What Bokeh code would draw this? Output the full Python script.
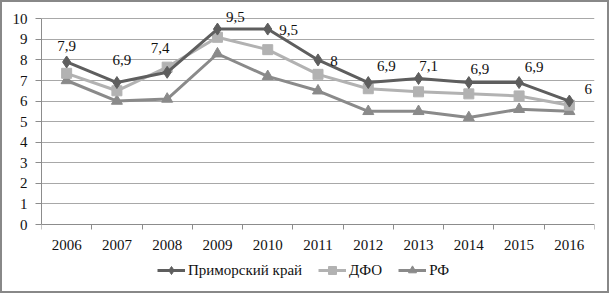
from bokeh.plotting import figure
from bokeh.models import (ColumnDataSource, Range1d, LinearAxis, FixedTicker, Legend,
                          LegendItem, Grid)
from bokeh.core.properties import value
from bokeh.embed import file_html
from bokeh.resources import INLINE

years = [2006, 2007, 2008, 2009, 2010, 2011, 2012, 2013, 2014, 2015, 2016]
year_labels = ["2006", "2007", "2008", "2009", "2010", "2011", "2012", "2013", "2014", "2015", "2016"]
primorsky = [7.9, 6.9, 7.4, 9.5, 9.5, 8.0, 6.9, 7.1, 6.9, 6.9, 6.0]
dfo = [7.35, 6.5, 7.65, 9.1, 8.5, 7.3, 6.6, 6.45, 6.35, 6.25, 5.8]
rf = [7.0, 6.0, 6.1, 8.3, 7.2, 6.5, 5.5, 5.5, 5.2, 5.6, 5.5]
primorsky_labels = ["7,9", "6,9", "7,4", "9,5", "9,5", "8", "6,9", "7,1", "6,9", "6,9", "6"]
series_names = ["Приморский край", "ДФО", "РФ"]

# label placement (screen pixels), layout only
lab_dx = [0, 5, -7, 18, 21, 16, 18, 10, 11, 15, 19]
lab_dy = [-16, -23, -24, -12, 1, 1, -17, -12, -14, -16, -12]

FONT = "serif"
C_P, C_D, C_R = "#5e5e5e", "#b2b2b2", "#8a8a8a"
GRID = "#a8a8a8"
AX = "#8c8c8c"
TXT = "#111111"

src = ColumnDataSource(dict(x=years, p=primorsky, d=dfo, r=rf, lab=primorsky_labels,
                            dx=lab_dx, dy=lab_dy, ylab=year_labels))

# frame spans from y=10.5 (top) down to the legend area; y=0 sits 63 px above the frame bottom
p = figure(width=609, height=293, output_backend="svg", toolbar_location=None,
           x_range=Range1d(years[0] - 0.5, years[-1] + 0.5), y_range=Range1d(-3.0625, 10.5),
           x_axis_type=None, y_axis_type=None,
           min_border_left=39, min_border_right=17, min_border_top=6, min_border_bottom=8)
p.outline_line_color = None
p.background_fill_color = "white"
p.border_fill_color = "white"
p.styles = {"border": "2px solid #888888", "box-sizing": "border-box"}

# y axis
yax = LinearAxis(ticker=FixedTicker(ticks=list(range(0, 11))), bounds=(0, 10))
yax.axis_line_color = AX
yax.major_tick_line_color = AX
yax.major_tick_out = 6
yax.major_tick_in = 0
yax.minor_tick_line_color = None
yax.major_label_standoff = 8
yax.major_label_text_font = FONT
yax.major_label_text_font_size = "15px"
yax.major_label_text_color = TXT
p.add_layout(yax, "left")

# x axis line at y=0 with ticks on category boundaries
tax = LinearAxis(ticker=FixedTicker(ticks=[y - 0.5 for y in years] + [years[-1] + 0.5]),
                 fixed_location=0)
tax.axis_line_color = AX
tax.major_tick_line_color = AX
tax.major_tick_out = 5
tax.major_tick_in = 0
tax.minor_tick_line_color = None
tax.major_label_text_font_size = "0px"
tax.major_label_standoff = 0
p.add_layout(tax, "below")

p.add_layout(Grid(dimension=1, ticker=FixedTicker(ticks=list(range(1, 11))), grid_line_color=GRID))

# category labels under the x axis
p.text("x", 0, text="ylab", source=src, y_offset=20,
       text_font=value(FONT), text_font_size="15px", text_color=TXT,
       text_align="center", text_baseline="middle")

lw = 3
lr = p.line("x", "r", source=src, line_color=C_R, line_width=lw)
sr = p.scatter("x", "r", source=src, marker="triangle", size=11, fill_color=C_R, line_color=C_R)
ld = p.line("x", "d", source=src, line_color=C_D, line_width=lw)
sd = p.scatter("x", "d", source=src, marker="square", size=10, fill_color=C_D, line_color=C_D)
lp = p.line("x", "p", source=src, line_color=C_P, line_width=lw)
sp = p.scatter("x", "p", source=src, marker="diamond", size=12, fill_color=C_P, line_color=C_P)

p.text("x", "p", text="lab", source=src, x_offset="dx", y_offset="dy",
       text_font=value(FONT), text_font_size="15px", text_color=TXT,
       text_align="center", text_baseline="middle")

legend = Legend(items=[LegendItem(label=series_names[0], renderers=[lp, sp]),
                       LegendItem(label=series_names[1], renderers=[ld, sd]),
                       LegendItem(label=series_names[2], renderers=[lr, sr])],
                location=(116, 7), orientation="horizontal")
legend.label_text_font = FONT
legend.label_text_font_size = "15px"
legend.label_text_color = TXT
legend.glyph_width = 28
legend.glyph_height = 20
legend.label_standoff = 3
legend.spacing = 16
legend.padding = 0
legend.margin = 0
legend.border_line_color = None
legend.background_fill_alpha = 0
p.add_layout(legend, "center")

open("out.html", "w").write(file_html(p, INLINE))
